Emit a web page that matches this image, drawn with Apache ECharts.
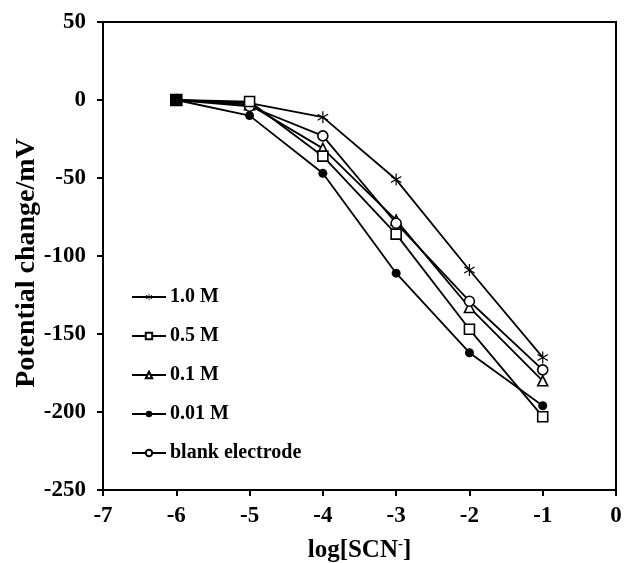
<!DOCTYPE html>
<html>
<head>
<meta charset="utf-8">
<script src="https://cdn.jsdelivr.net/npm/echarts@6/dist/echarts.min.js"></script>
<style>
  html, body { margin: 0; padding: 0; background: #fff; }
  #main { width: 632px; height: 563px; }
</style>
</head>
<body>
<div id="main"></div>
<script>
// log[SCN-] values
var logConc = [-6, -5, -4, -3, -2, -1];
// potential change (mV) for each series
var names = ['1.0 M', '0.5 M', '0.1 M', '0.01 M', 'blank electrode'];
var m10 = [0, -2, -11, -51, -109, -165];
var m05 = [0, -1, -36, -86, -147, -203];
var m01 = [0, -3, -31, -77, -133, -180];
var m001 = [0, -10, -47, -111, -162, -196];
var blank = [0, -4, -23, -79, -129, -173];

// asterisk symbol (three thin bars)
var star = 'path://M-1,-10L1,-10L1,10L-1,10Z M8.16,-5.87L9.16,-4.13L-8.16,5.87L-9.16,4.13Z M9.16,4.13L8.16,5.87L-9.16,-4.13L-8.16,-5.87Z';

function pairs(ys) {
  return logConc.map(function (x, i) { return [x, ys[i]]; });
}

function mkSeries(name, ys, symbol, size, fill, z) {
  return {
    name: name,
    type: 'line',
    data: pairs(ys),
    symbol: symbol,
    symbolSize: size,
    symbolKeepAspect: true,
    z: z,
    lineStyle: { color: '#000', width: 1.8 },
    itemStyle: { color: fill, borderColor: '#000', borderWidth: fill === '#000' ? 0 : 1.6 },
    emphasis: { disabled: true }
  };
}

var sq = mkSeries(names[1], m05, 'rect', 10, '#fff', 5);
// all curves start together at -6; the overlapping marks read as a solid square
sq.data[0] = { value: sq.data[0], itemStyle: { color: '#000' }, symbolSize: 11 };

var chart = echarts.init(document.getElementById('main'));
var font = { fontFamily: 'Liberation Serif', fontWeight: 'bold', color: '#000' };

chart.setOption({
  animation: false,
  grid: { left: 103, top: 22, right: 16, bottom: 73, outerBoundsMode: 'none', containLabel: false,
          show: true, borderColor: '#000', borderWidth: 2, backgroundColor: 'transparent' },
  legend: {
    orient: 'vertical',
    left: 126,
    top: 282,
    itemGap: 19,
    itemWidth: 34,
    itemHeight: 8,
    data: names,
    textStyle: { fontFamily: 'Liberation Serif', fontWeight: 'bold', fontSize: 20, color: '#000', padding: [0, 0, 0, -1] }
  },
  xAxis: {
    type: 'value',
    min: -7, max: 0, interval: 1,
    name: 'log[SCN{s|-}]',
    nameLocation: 'middle',
    nameGap: 47,
    nameMoveOverlap: false,
    nameTextStyle: {
      fontFamily: 'Liberation Serif', fontWeight: 'bold', fontSize: 25, color: '#000',
      rich: { s: { fontFamily: 'Liberation Serif', fontWeight: 'bold', fontSize: 15, verticalAlign: 'top', padding: [0, 0, 12, 0], color: '#000' } }
    },
    axisLine: { onZero: false, lineStyle: { color: '#000', width: 2 } },
    axisTick: { inside: false, length: 6, lineStyle: { width: 2, color: '#000' } },
    axisLabel: Object.assign({ fontSize: 23, margin: 15 }, font),
    splitLine: { show: false }
  },
  yAxis: {
    type: 'value',
    min: -250, max: 50, interval: 50,
    name: 'Potential change/mV',
    nameLocation: 'middle',
    nameGap: 62,
    nameMoveOverlap: false,
    nameTextStyle: { fontFamily: 'Liberation Serif', fontWeight: 'bold', fontSize: 28, color: '#000', padding: [0, 14, 0, 0] },
    axisLine: { onZero: false, lineStyle: { color: '#000', width: 2 } },
    axisTick: { inside: false, length: 6, lineStyle: { width: 2, color: '#000' } },
    axisLabel: Object.assign({ fontSize: 23, margin: 17 }, font),
    splitLine: { show: false }
  },
  series: [
    mkSeries(names[0], m10, star, 12, '#000', 2),
    sq,
    mkSeries(names[2], m01, 'triangle', 10, '#fff', 2),
    mkSeries(names[3], m001, 'circle', 9, '#000', 2),
    mkSeries(names[4], blank, 'circle', 10, '#fff', 2)
  ]
});
</script>
</body>
</html>
